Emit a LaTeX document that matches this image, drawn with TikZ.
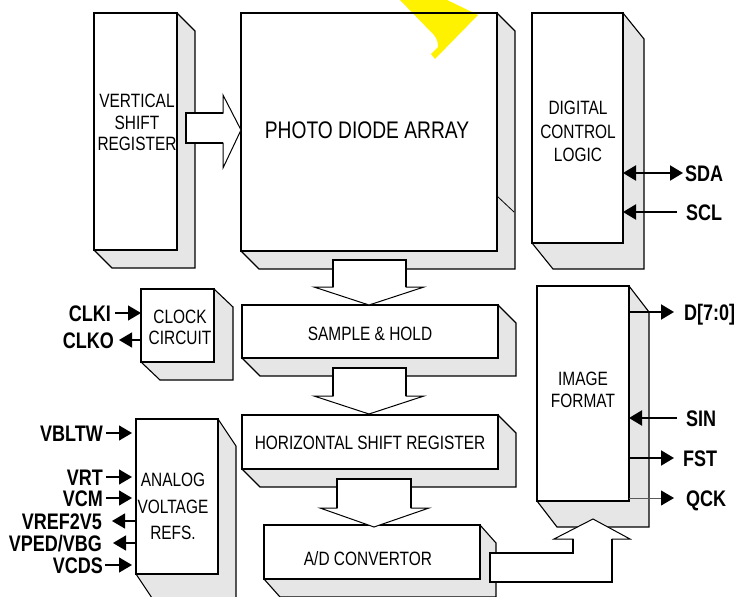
\documentclass[tikz,border=0pt]{standalone}
\usepackage{fontspec}
\setmainfont{Liberation Sans}
\newfontfamily\nar[FakeStretch=0.8]{Liberation Sans}
\usetikzlibrary{arrows.meta,calc,backgrounds}
\definecolor{shade}{RGB}{230,230,230}
\newcommand\mkshadow[3]{%
  \begin{scope}[on background layer]
    \clip (0,0) rectangle (737,597);
    \filldraw[shadowst] (#1.north east) -- ++(#2,#3) -- ($(#1.south east)+(#2,#3)$)
      -- ($(#1.south west)+(#2,#3)$) -- (#1.south west) -- cycle;
  \end{scope}}
\begin{document}
\begin{tikzpicture}[x=1pt,y=-1pt,
  box/.style={draw=black,line width=2pt,fill=white,rectangle,inner sep=0pt,outer sep=0pt,anchor=north west},
  shadowst/.style={fill=shade,draw=black,line width=1.1pt,line join=miter},
  btxt/.style={font=\nar\fontsize{19.3}{21.5}\selectfont,align=center,inner sep=0pt},
  lbl/.style={font=\nar\bfseries\fontsize{22.5}{24}\selectfont,inner sep=0pt,text height=16pt,text depth=0pt},
  sig/.style={line width=2pt,-{Triangle[length=13pt,width=15pt]}},
  sigl/.style={line width=1.3pt,-{Triangle[length=13pt,width=15pt]}},
  blk/.style={draw=black,line width=1pt,fill=white,line join=miter},
  shaft/.style={line width=2pt,line join=miter}
]
\useasboundingbox (0,0) rectangle (737,597);
\clip (0,0) rectangle (737,597);

% boxes
\node[box,minimum width=83pt,minimum height=237pt] (vsr) at (94,13) {};
\node[box,minimum width=256pt,minimum height=238pt] (pda) at (241,13) {};
\node[box,minimum width=91pt,minimum height=230pt] (dcl) at (532,13) {};
\node[box,minimum width=73pt,minimum height=73pt] (clk) at (141,289) {};
\node[box,minimum width=256pt,minimum height=53pt] (sh) at (242,305) {};
\node[box,minimum width=256pt,minimum height=54pt] (hsr) at (242,415) {};
\node[box,minimum width=216pt,minimum height=54pt] (ad) at (264,525) {};
\node[box,minimum width=92pt,minimum height=215pt] (imf) at (537,286) {};
\node[box,minimum width=82pt,minimum height=155pt] (avr) at (136,419) {};

\mkshadow{vsr}{18}{18}
\mkshadow{pda}{18}{18}
\mkshadow{dcl}{21}{26}
\mkshadow{clk}{19}{18}
\mkshadow{sh}{18}{18}
\mkshadow{hsr}{18}{18}
\mkshadow{ad}{16}{18}
\mkshadow{imf}{20}{26}
\mkshadow{avr}{18}{27}
\draw[line width=0.8pt] (pda.east |- 0,196) -- ++(17,16);

% watermark fragment
\fill[yellow] (398,-2) -- (443,-2) -- (478,15) -- (435,59) -- (431,54) -- (438,47)
  .. controls (438,42) and (437,39) .. (434,35) -- cycle;
\draw[line width=2pt] (pda.north west) -- (pda.north east);

% box texts
\node[btxt] (vsrT) at (137,122.5) {VERTICAL\\SHIFT\hspace{12pt}\\REGISTER};
\node[btxt,font=\nar\fontsize{24}{26}\selectfont] (pdaT) at (367,130) {PHOTO DIODE ARRAY};
\node[btxt,font=\nar\fontsize{19.3}{23.5}\selectfont] (dclT) at (578,131.5) {DIGITAL\\CONTROL\\LOGIC};
\node[btxt,font=\nar\fontsize{19.3}{21}\selectfont] (clkT) at (180,327.5) {CLOCK\\CIRCUIT};
\node[btxt] (shT) at (370,334) {SAMPLE \& HOLD};
\node[btxt] (hsrT) at (370,443) {HORIZONTAL SHIFT REGISTER};
\node[btxt] (adT) at (368,559) {A/D CONVERTOR};
\node[btxt,font=\nar\fontsize{19.3}{22}\selectfont] (imfT) at (583,390) {IMAGE\\FORMAT};
\node[btxt,font=\nar\fontsize{19.3}{26.5}\selectfont] (avrT) at (173,506.5) {ANALOG\\VOLTAGE\\REFS.};

% block arrows
\coordinate (t0) at (pda.west |- 0,130);
\draw[blk] (t0) -- ++(-18,-35) -- ++(0,18) -- ++(-37,0) -- ++(0,30) -- ++(37,0) -- ++(0,25) -- cycle;
\draw[shaft] ($(t0)+(-18,-17)$) -- ++(-37,0) -- ++(0,30) -- ++(37,0);

\coordinate (t1) at (369,305);
\draw[blk] (t1) -- ++(-55,-18) -- ++(19,0) -- ++(0,-27) -- ++(73,0) -- ++(0,27) -- ++(18,0) -- cycle;
\draw[shaft] ($(t1)+(-36,-18)$) -- ++(0,-27) -- ++(73,0) -- ++(0,27);

\coordinate (t2) at (369,414);
\draw[blk] (t2) -- ++(-55,-18) -- ++(19,0) -- ++(0,-28) -- ++(73,0) -- ++(0,28) -- ++(18,0) -- cycle;
\draw[shaft] ($(t2)+(-36,-18)$) -- ++(0,-28) -- ++(73,0) -- ++(0,28);

\coordinate (t3) at (374,527);
\draw[blk] (t3) -- ++(-54,-19) -- ++(17,0) -- ++(0,-29) -- ++(74,0) -- ++(0,29) -- ++(18,0) -- cycle;
\draw[shaft] ($(t3)+(-37,-19)$) -- ++(0,-29) -- ++(74,0) -- ++(0,29);

\coordinate (t4) at (593,519);
\draw[blk] (490,553) -- (573,553) -- (573,539) -- (554,539) -- (t4) -- (630,539) -- (612,539) -- (612,582) -- (490,582) -- cycle;
\draw[shaft] (573,539) -- (573,553) -- (490,553) -- (490,582) -- (612,582) -- (612,539);

% right labels
\node[lbl,anchor=west] (sda) at (685,173) {SDA};
\node[lbl,anchor=west] (scl) at (686,212) {SCL};
\node[lbl,anchor=west] (dd) at (684,312) {D[7:0]};
\node[lbl,anchor=west] (sin) at (686,418) {SIN};
\node[lbl,anchor=west] (fst) at (683,458) {FST};
\node[lbl,anchor=west] (qck) at (686,498) {QCK};

\draw[line width=2pt,{Triangle[length=13pt,width=15pt]}-{Triangle[length=13pt,width=15pt]}] (dcl.east |- sda.west) -- ([xshift=-2pt]sda.west);
\draw[sig] ([xshift=-9pt]scl.west) -- (dcl.east |- scl.west);
\draw[sig] (imf.east |- dd.west) -- ([xshift=-10pt]dd.west);
\draw[sig] ([xshift=-9pt]sin.west) -- (imf.east |- sin.west);
\draw[sig] (imf.east |- fst.west) -- ([xshift=-9pt]fst.west);
\draw[line width=1pt,draw=black!65,-{Triangle[length=13pt,width=15pt,color=black,fill=black]}] (imf.east |- qck.west) -- ([xshift=-12pt]qck.west);

% left labels
\node[lbl,anchor=east] (clki) at (111,313) {CLKI};
\node[lbl,anchor=east] (clko) at (114,340) {CLKO};
\node[lbl,anchor=east] (vbltw) at (103,433) {VBLTW};
\node[lbl,anchor=east] (vrt) at (103,477) {VRT};
\node[lbl,anchor=east] (vcm) at (103,498) {VCM};
\node[lbl,anchor=east] (vref) at (102,521) {VREF2V5};
\node[lbl,anchor=east] (vped) at (102,543) {VPED/VBG};
\node[lbl,anchor=east] (vcds) at (103,565) {VCDS};

\draw[sigl] ([xshift=4pt]clki.east) -- (clk.west |- clki.east);
\draw[sigl] (clk.west |- clko.east) -- ([xshift=5pt]clko.east);
\draw[sigl,shorten >=4pt] ([xshift=3pt]vbltw.east) -- (avr.west |- vbltw.east);
\draw[sigl,shorten >=4pt] ([xshift=3pt]vrt.east) -- (avr.west |- vrt.east);
\draw[sigl,shorten >=4pt] ([xshift=3pt]vcm.east) -- (avr.west |- vcm.east);
\draw[sigl] (avr.west |- vref.east) -- ([xshift=10pt]vref.east);
\draw[sigl] (avr.west |- vped.east) -- ([xshift=11pt]vped.east);
\draw[sigl,shorten >=4pt] ([xshift=2pt]vcds.east) -- (avr.west |- vcds.east);
\end{tikzpicture}
\end{document}
